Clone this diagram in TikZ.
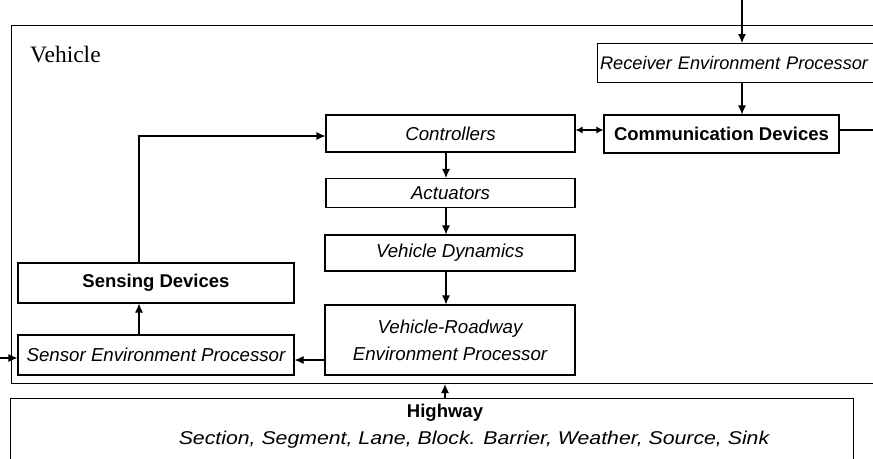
\documentclass[tikz,border=0pt]{standalone}
\usepackage{fontspec}
\setmainfont{Liberation Serif}
\setsansfont{Liberation Sans}
\usetikzlibrary{arrows.meta}
\begin{document}
\begin{tikzpicture}[x=1pt,y=-1pt,
  box/.style={draw, line width=1.1pt, rectangle, inner sep=0pt, font=\sffamily\itshape\fontsize{18.7}{21}\selectfont},
  bbox/.style={box, font=\sffamily\bfseries\fontsize{18.5}{21}\selectfont},
  frame/.style={draw, line width=1.1pt, rectangle, inner sep=0pt},
  arr/.style={line width=1.1pt, -{Latex[length=9pt,width=8pt]}},
  darr/.style={line width=1.1pt, {Latex[length=7pt,width=7pt]}-{Latex[length=7pt,width=7pt]}},
  ln/.style={line width=1.1pt}]
\useasboundingbox (0,0) rectangle (873,458);
\clip (0,0) rectangle (873,458);
\fill[white] (0,0) rectangle (873,458);
% containers
\node[frame, anchor=north west, minimum width=900pt, minimum height=358pt] (veh) at (11,25) {};
\node[font=\fontsize{23.5}{25}\selectfont, anchor=west, inner sep=0pt] (vehlbl) at (30,55) {Vehicle};
\node[frame, anchor=north west, minimum width=843pt, minimum height=120pt] (hw) at (10,398) {};
\node[font=\sffamily\bfseries\fontsize{18.5}{21}\selectfont, inner sep=0pt] (hwlbl) at (445,413) {Highway};
\node[font=\sffamily\itshape\fontsize{18.5}{21}\selectfont, inner sep=0pt] (hwsub) at (474,440) {\scalebox{1.15}[1]{Section, Segment, Lane, Block. Barrier, Weather, Source, Sink}};
% boxes
\node[box, minimum width=249pt, minimum height=37pt] (ctrl) at (450.5,133.5) {Controllers};
\node[box, minimum width=249pt, minimum height=29pt] (act) at (450.5,193) {Actuators};
\node[box, minimum width=250pt, minimum height=36pt] (dyn) at (450,253) {Vehicle Dynamics};
\node[box, minimum width=250pt, minimum height=70pt, align=center, font=\sffamily\itshape\fontsize{18.7}{27}\selectfont] (vrep) at (450,340) {Vehicle-Roadway\\Environment Processor};
\node[bbox, minimum width=276pt, minimum height=40pt] (sens) at (156,283) {Sensing Devices};
\node[box, minimum width=276pt, minimum height=40pt] (sep) at (156,355) {Sensor Environment Processor};
\node[box, anchor=north west, minimum width=300pt, minimum height=39pt, text width=296pt, align=left, font=\sffamily\itshape\fontsize{18.2}{21}\selectfont] (recv) at (597,43) {\hspace*{0.5pt}Receiver Environment Processor};
\node[bbox, minimum width=235pt, minimum height=38pt] (comm) at (721.5,134) {Communication Devices};
% external endpoints
\coordinate (topin) at (742,0);
\coordinate (rightout) at (873,130);
\coordinate (leftin) at (0,358);
\coordinate (bend) at (139,136);
% connectors
\draw[arr] (topin) -- (topin |- recv.north);
\draw[arr] (recv.south -| topin) -- (comm.north -| topin);
\draw[darr] (ctrl.east |- 0,130) -- (comm.west |- 0,130);
\draw[ln] (comm.east |- rightout) -- (rightout);
\draw[arr] (ctrl.south -| 446,0) -- (act.north -| 446,0);
\draw[arr] (act.south -| 446,0) -- (dyn.north -| 446,0);
\draw[arr] (dyn.south -| 446,0) -- (vrep.north -| 446,0);
\draw[arr] (hw.north -| 445,0) -- (veh.south -| 445,0);
\draw[arr] (vrep.west |- 0,360) -- (sep.east |- 0,360);
\draw[arr] (sep.north -| bend) -- (sens.south -| bend);
\draw[arr] (sens.north -| bend) -- (bend) -- (ctrl.west |- bend);
\draw[arr] (leftin) -- (sep.west |- leftin);
\end{tikzpicture}
\end{document}
